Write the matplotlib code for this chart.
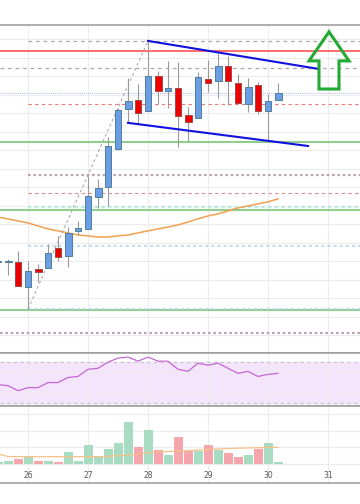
import numpy as np
import pandas as pd
import matplotlib
matplotlib.use("Agg")
import matplotlib.pyplot as plt
import matplotlib.dates as mdates
from matplotlib.patches import Polygon
from matplotlib.ticker import MultipleLocator, FixedLocator

# ---------------------------------------------------------------------------
# data (4h candles)
# ---------------------------------------------------------------------------
times = pd.date_range("2020-01-25 12:00", periods=29, freq="4h")

opens = [9395, 9395, 9397, 9262, 9359, 9365, 9473, 9430, 9565, 9576,
         9749, 9803, 10008, 10224, 10273, 10214, 10403, 10322, 10338, 10192,
         10176, 10387, 10376, 10457, 10365, 10251, 10354, 10214, 10273]
closes = [9400, 9400, 9268, 9349, 9343, 9446, 9424, 9554, 9581, 9754,
          9797, 10024, 10219, 10268, 10203, 10403, 10322, 10338, 10186, 10154,
          10397, 10365, 10457, 10376, 10257, 10343, 10214, 10268, 10311]
highs = [9414, 9414, 9457, 9403, 9387, 9495, 9538, 9586, 9619, 9862,
         9846, 10073, 10230, 10392, 10359, 10597, 10430, 10484, 10478, 10235,
         10424, 10489, 10527, 10511, 10414, 10392, 10370, 10305, 10365]
lows = [9376, 9327, 9268, 9143, 9289, 9365, 9403, 9370, 9543, 9576,
        9689, 9700, 10003, 10154, 10149, 10214, 10251, 10230, 10019, 10051,
        10176, 10316, 10284, 10246, 10257, 10208, 10197, 10051, 10273]

ma_price = [9640, 9630, 9619, 9608, 9592, 9576, 9565, 9554, 9543, 9538,
            9532, 9532, 9538, 9543, 9554, 9565, 9576, 9586, 9597, 9613,
            9630, 9646, 9657, 9673, 9689, 9700, 9711, 9722, 9738]

rsi = [48, 47, 42, 45, 45, 50, 50, 55, 56, 63,
       64, 70, 74, 75, 71, 75, 71, 71, 63, 61,
       69, 67, 69, 64, 59, 61, 56, 58, 59]

volume = [140, 200, 300, 440, 200, 180, 140, 740, 200, 1140,
          480, 900, 1240, 2540, 1000, 2040, 840, 540, 1640, 780,
          780, 1120, 840, 640, 400, 540, 880, 1240, 140]
vol_ma = [600, 450, 440, 440, 440, 440, 440, 440, 440, 440,
          440, 460, 500, 540, 600, 680, 720, 750, 780, 800,
          840, 870, 900, 930, 950, 960, 980, 990, 1000]

# horizontal levels across the whole chart
full_levels = [10538, 10446, 10311, 10046, 9678, 9138, 9013]
full_styles = [("#ff4444", "-", 1.1), ("#aaaaaa", (0, (3, 3)), 0.9),
               ("#a9bdf2", (0, (1, 1)), 0.7), ("#8fce8f", "-", 1.5),
               ("#8fce8f", "-", 1.5), ("#8fce8f", "-", 1.5),
               ("#bba5b5", (0, (1.2, 1.2)), 1.6)]
# levels starting at the 26th
part_levels = [10592, 10251, 9868, 9770, 9695, 9484, 9143]
part_styles = [("#aaaaaa", (0, (3, 3)), 0.9), ("#e87878", (0, (3, 3)), 0.8),
               ("#bba5b5", (0, (1.2, 1.2)), 1.6), ("#d88888", (0, (3, 3)), 0.8),
               ("#b8e8e0", (0, (1.5, 1.5)), 1.6), ("#b0d2ee", (0, (2, 2)), 1.1),
               ("#b0d2ee", (0, (2, 2)), 1.1)]
part_start = pd.Timestamp("2020-01-26 00:00")

# drawn lines
upper_t = pd.to_datetime(["2020-01-28 00:00", "2020-01-30 20:00"])
upper_p = [10592, 10441]
lower_t = pd.to_datetime(["2020-01-27 16:00", "2020-01-30 16:00"])
lower_p = [10149, 10024]
diag_t = pd.to_datetime(["2020-01-26 00:00", "2020-01-28 00:00"])
diag_p = [9143, 10592]

arrow_t = pd.to_datetime(["2020-01-31 00:24", "2020-01-31 08:24", "2020-01-31 04:24",
                          "2020-01-31 04:24", "2020-01-30 20:24", "2020-01-30 20:24",
                          "2020-01-30 16:24"])
arrow_p = [10641, 10484, 10484, 10332, 10332, 10484, 10484]

# ---------------------------------------------------------------------------
# figure
# ---------------------------------------------------------------------------
fig = plt.figure(figsize=(3.6, 5.04), dpi=100)
ax = fig.add_axes([0, 151 / 504, 1, 328 / 504])
ax_rsi = fig.add_axes([0, 98 / 504, 1, 53 / 504], sharex=ax)
ax_vol = fig.add_axes([0, 21 / 504, 1, 77 / 504], sharex=ax)

x = mdates.date2num(times)
step = 4 / 24
day0 = mdates.date2num(pd.Timestamp("2020-01-26"))
x_left = day0 - 28 / 60
x_right = day0 + 332 / 60

for a in (ax, ax_rsi, ax_vol):
    for s in ("left", "right"):
        a.spines[s].set_visible(False)
    for s in ("top", "bottom"):
        a.spines[s].set_color("#9a9a9a")
        a.spines[s].set_linewidth(1.1)
    a.grid(True, color="#ececec", linewidth=0.8)
    a.set_axisbelow(True)
    a.tick_params(length=0, labelleft=False, labelbottom=False)
    a.xaxis.set_major_locator(mdates.DayLocator())

# main panel
for lvl, (c, ls, lw) in zip(full_levels, full_styles):
    ax.axhline(lvl, color=c, linestyle=ls, linewidth=lw, zorder=1)
for lvl, (c, ls, lw) in zip(part_levels, part_styles):
    ax.hlines(lvl, mdates.date2num(part_start), x_right, colors=c,
              linestyles=ls, linewidth=lw, zorder=1)

ax.plot(x, ma_price, color="#f0a050", linewidth=1.1, zorder=2)
ax.plot(mdates.date2num(diag_t), diag_p, color="#aaaaaa",
        linestyle=(0, (2.5, 2.5)), linewidth=0.8, zorder=2)

o = np.array(opens)
c = np.array(closes)
up = c >= o
body_col = np.where(up, "#6a9de4", "#ee0000")
edge_col = np.where(up, "#4f7f9a", "#a04848")
ax.vlines(x, lows, highs, color="#9a9a9a", linewidth=0.8, zorder=3)
ax.bar(x, c - o, bottom=o, width=step * 0.7, color=body_col,
       edgecolor=edge_col, linewidth=0.7, zorder=4)

ax.plot(mdates.date2num(upper_t), upper_p, color="#1010e0", linewidth=1.5, zorder=5)
ax.plot(mdates.date2num(lower_t), lower_p, color="#1010e0", linewidth=1.5, zorder=5)

arrow_xy = np.column_stack([mdates.date2num(arrow_t), arrow_p])
ax.add_patch(Polygon(arrow_xy, closed=True, fill=False, edgecolor="#22aa33",
                     linewidth=2.2, joinstyle="miter", zorder=5))

ax.set_ylim(8905, 10678)
ax.yaxis.set_major_locator(MultipleLocator(100))
ax.set_xlim(x_left, x_right)

# RSI panel
ax_rsi.axhspan(30, 70, color="#f4e4fc", zorder=0)
for lvl in (30, 70):
    ax_rsi.axhline(lvl, color="#c4c4c4", linestyle=(0, (3, 3)), linewidth=0.8)
ax_rsi.plot(x, rsi, color="#c468d4", linewidth=0.9)
ax_rsi.set_ylim(27, 79)
ax_rsi.yaxis.set_major_locator(FixedLocator([40, 60]))

# volume panel
vol_col = np.where(up, "#a8dcc2", "#f5a6ac")
ax_vol.bar(x, volume, width=step * 0.9, color=vol_col, zorder=2)
ax_vol.plot(x, vol_ma, color="#f7c08a", linewidth=0.9, zorder=3)
ax_vol.set_ylim(-1140, 3480)
ax_vol.yaxis.set_major_locator(FixedLocator([0, 1000, 2000, 3000]))
ax_vol.xaxis.set_major_formatter(mdates.DateFormatter("%d"))
ax_vol.tick_params(axis="x", labelbottom=True, direction="in", pad=-8.8,
                   labelsize=5.5, labelcolor="#555555")
ax_vol.set_xlim(x_left, x_right)

fig.savefig("out.png", dpi=100)
